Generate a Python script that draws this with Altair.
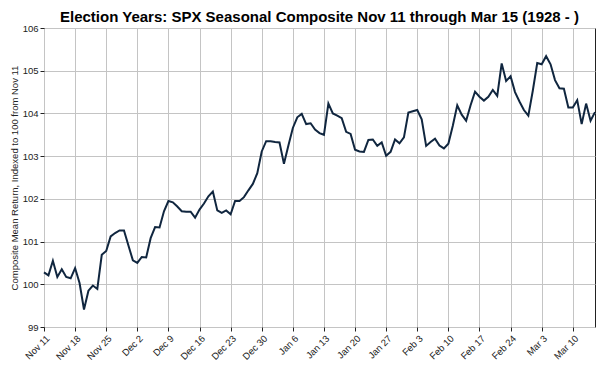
import json
import altair as alt
import pandas as pd

# Composite values, one per calendar day from Nov 11 (day 0) to Mar 15 (day 124)
values = [
    100.28, 100.21, 100.55, 100.17, 100.35, 100.17, 100.14, 100.38, 100.03, 99.41,
    99.85, 99.97, 99.89, 100.69, 100.78, 101.12, 101.20, 101.26, 101.26, 100.91,
    100.56, 100.50, 100.64, 100.63, 101.08, 101.34, 101.33, 101.71, 101.95, 101.92,
    101.82, 101.71, 101.70, 101.70, 101.56, 101.75, 101.89, 102.06, 102.17, 101.73,
    101.67, 101.73, 101.64, 101.95, 101.95, 102.04, 102.20, 102.35, 102.60, 103.11,
    103.35, 103.35, 103.33, 103.32, 102.82, 103.25, 103.66, 103.91, 103.99, 103.75,
    103.77, 103.62, 103.54, 103.50, 104.23, 104.00, 103.95, 103.89, 103.57, 103.52,
    103.15, 103.11, 103.10, 103.38, 103.39, 103.24, 103.32, 103.01, 103.10, 103.39,
    103.30, 103.44, 104.02, 104.05, 104.08, 103.86, 103.24, 103.33, 103.41, 103.25,
    103.18, 103.29, 103.71, 104.19, 103.97, 103.83, 104.19, 104.51, 104.39, 104.30,
    104.39, 104.55, 104.41, 105.17, 104.76, 104.87, 104.50, 104.28, 104.08, 103.95,
    104.53, 105.18, 105.15, 105.34, 105.15, 104.78, 104.59, 104.58, 104.14, 104.14,
    104.31, 103.75, 104.23, 103.83, 104.03,
]
days = list(range(len(values)))

tick_labels = ["Nov 11", "Nov 18", "Nov 25", "Dec 2", "Dec 9", "Dec 16", "Dec 23",
               "Dec 30", "Jan 6", "Jan 13", "Jan 20", "Jan 27", "Feb 3", "Feb 10",
               "Feb 17", "Feb 24", "Mar 3", "Mar 10"]
tick_days = [7 * i for i in range(len(tick_labels))]
y_ticks = [99, 100, 101, 102, 103, 104, 105, 106]

df = pd.DataFrame({"day": days, "value": values})

label_expr = json.dumps(tick_labels) + "[round(datum.value / 7)]"

FONT = "Liberation Sans"

chart = alt.Chart(df).mark_line(color="#10263f", strokeWidth=2).encode(
    x=alt.X("day:Q",
            scale=alt.Scale(domain=[0, 124], nice=False, zero=False),
            axis=alt.Axis(values=tick_days, labelExpr=label_expr, title=None,
                          labelAngle=-45, labelAlign="right", labelBaseline="top",
                          labelFontSize=9.5, labelColor="#222", tickSize=4,
                          tickColor="#222", domain=False, grid=True,
                          gridColor="#c4c4c4", labelPadding=2)),
    y=alt.Y("value:Q",
            scale=alt.Scale(domain=[99, 106], nice=False, zero=False),
            axis=alt.Axis(values=y_ticks, format="d",
                          title="Composite Mean Return, Indexed to 100 from Nov 11",
                          titleFontSize=9.5, titleFontWeight="normal", titleColor="#222",
                          titlePadding=3,
                          labelFontSize=9.5, labelColor="#222", tickSize=4,
                          tickColor="#222", domain=False, grid=True,
                          gridColor="#c4c4c4", labelPadding=2)),
).properties(
    width=551,
    height=299,
    title=alt.TitleParams(
        "Election Years: SPX Seasonal Composite Nov 11 through Mar 15 (1928 - )",
        fontSize=15, fontWeight="bold", font=FONT, color="#000",
        anchor="middle", offset=-2),
    autosize=alt.AutoSizeParams(type="none"),
    padding={"left": 36, "top": 20, "right": 8, "bottom": 42},
).configure(font=FONT).configure_view(stroke="#222", strokeWidth=1)

chart.save("out.html", embed_options={"renderer": "svg", "actions": False})
